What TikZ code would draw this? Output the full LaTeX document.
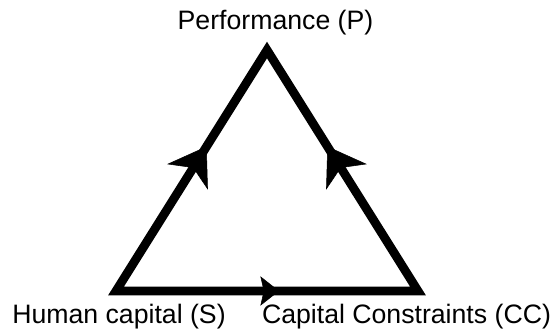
\documentclass[tikz,border=0pt]{standalone}
\usepackage{fontspec}
\setmainfont{Liberation Sans}
\usetikzlibrary{arrows.meta,decorations.markings}
\begin{document}
\begin{tikzpicture}[
  x=0.75pt, y=-0.75pt,
  every node/.style={font=\fontsize{20}{24}\selectfont, inner sep=0pt, anchor=base},
  sidetip/.tip={Stealth[length=27pt, width=36pt, inset=8pt]},
  basetip/.tip={Stealth[length=14pt, width=22pt, inset=2.5pt]},
  rand/.style={line width=6.6pt, line join=miter},
  midtip/.style={postaction={decorate}, decoration={markings, mark=at position #1 with {\arrow{sidetip}}}},
  midbase/.style={postaction={decorate}, decoration={markings, mark=at position #1 with {\arrow{basetip}}}}
]
\useasboundingbox (0,0) rectangle (551,333);
% Ecken des Dreiecks
\coordinate (p) at (267,50);
\coordinate (s) at (116,291);
\coordinate (cc) at (418,291);
% Beschriftungen
\node (lp) at (275.5,29) {Performance (P)};
\node (ls) at (119,323) {Human capital (S)};
\node (lcc) at (406.5,323) {Capital Constraints (CC)};
% Dreieck und Pfeile
\draw[rand] (s) -- (p) -- (cc) -- cycle;
\path[midtip=0.60] (s) -- (p);
\path[midtip=0.60] (cc) -- (p);
\path[midbase=0.54] (s) -- (cc);
\end{tikzpicture}
\end{document}
